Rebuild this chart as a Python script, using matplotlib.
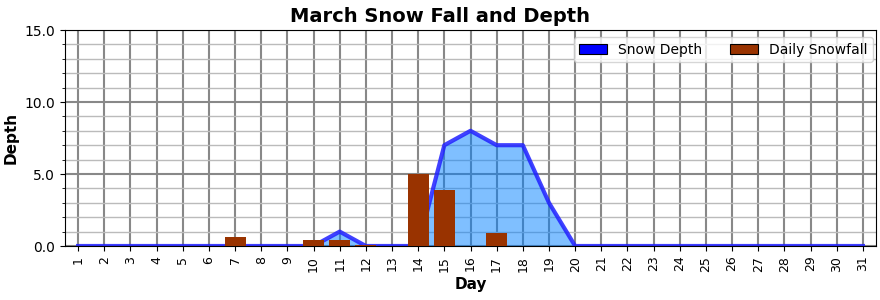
import matplotlib
matplotlib.use("Agg")
import matplotlib.pyplot as plt
from matplotlib.patches import Patch
from matplotlib.ticker import MultipleLocator

days = list(range(1, 32))
snow_depth = [0, 0, 0, 0, 0, 0, 0, 0, 0, 0, 1.0, 0, 0, 0, 7.0, 8.0, 7.0, 7.0, 3.0, 0,
              0, 0, 0, 0, 0, 0, 0, 0, 0, 0, 0]
daily_snowfall = [0, 0, 0, 0, 0, 0, 0.6, 0, 0, 0.4, 0.4, 0.05, 0, 5.0, 3.9, 0, 0.9, 0, 0, 0,
                  0, 0, 0, 0, 0, 0, 0, 0, 0, 0, 0]
tick_labels = [str(d) for d in days]

fig = plt.figure(figsize=(8.8, 3.0), dpi=100)
ax = fig.add_axes([65/880, 1-246/300, (876-65)/880, (246-30)/300])

ax.fill_between(days, snow_depth, 0, color="#0080ff", alpha=0.5, lw=0, zorder=2)
ax.plot(days, snow_depth, color="#2020ff", alpha=0.85, lw=3, zorder=3)
ax.bar(days, daily_snowfall, width=0.8, color="#993300", zorder=4)

ax.set_xlim(0.5, 31.5)
ax.set_ylim(0, 15)
ax.set_xticks(days)
ax.set_xticklabels(tick_labels, rotation=90, fontsize=9)
ax.yaxis.set_major_locator(MultipleLocator(5))
ax.yaxis.set_minor_locator(MultipleLocator(1))
ax.set_yticks([0, 5, 10, 15])
ax.set_yticklabels(["0.0", "5.0", "10.0", "15.0"], fontsize=10)
ax.grid(which="major", color="#888888", lw=1.5, zorder=0)
ax.grid(which="minor", axis="y", color="#bbbbbb", lw=1, zorder=0)
ax.set_axisbelow(True)

fig.suptitle("March Snow Fall and Depth", fontsize=14, fontweight="bold", y=0.978)
ax.set_xlabel("Day", fontsize=11, fontweight="bold", labelpad=4)
ax.set_ylabel("Depth", fontsize=11, fontweight="bold")

handles = [Patch(facecolor="blue", edgecolor="black", lw=0.8, label="Snow Depth"),
           Patch(facecolor="#993300", edgecolor="black", lw=0.8, label="Daily Snowfall")]
ax.legend(handles=handles, loc="upper right", ncol=2, fontsize=10, columnspacing=2.0,
          bbox_to_anchor=(1.0 + 4/811, 1.0))

fig.savefig("out.png", dpi=100)
